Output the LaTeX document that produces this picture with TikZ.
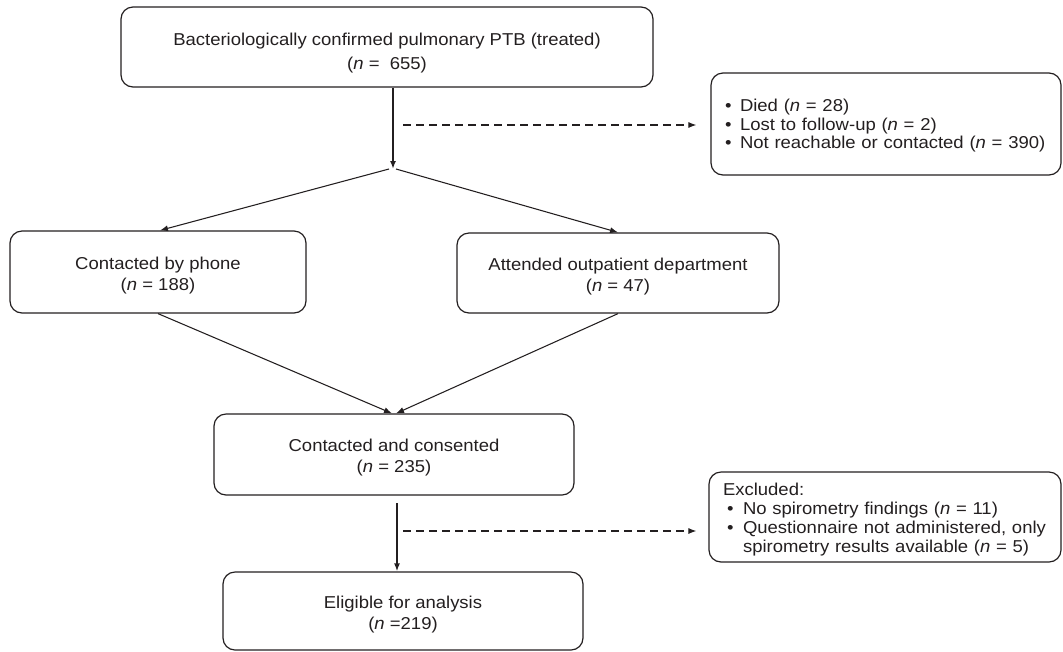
\documentclass[tikz,border=0pt]{standalone}
\usepackage{fontspec}
\setmainfont{Liberation Sans}[FakeStretch=1.075]
\usetikzlibrary{arrows.meta}
\definecolor{ink}{RGB}{35,31,32}
\newcommand{\upstrut}[1]{\rule{0pt}{#1}}
\begin{document}
\begin{tikzpicture}[x=0.75pt,y=-0.75pt,
  box/.style={draw=ink, line width=0.9pt, rounded corners=9pt, align=center, inner sep=0pt, text=ink},
  lbox/.style={box, align=left, inner xsep=10.5pt, inner ysep=0pt},
  arr/.style={draw=ink, line width=0.8pt, -{Latex[length=6pt,width=4.5pt]}},
  varr/.style={draw=ink, line width=1.3pt, -{Latex[length=6pt,width=4.5pt]}},
  darr/.style={draw=ink, line width=0.8pt, dash pattern=on 6pt off 3.75pt, -{Latex[length=6pt,width=4.5pt]}},
  fA/.style={font=\fontsize{12.9}{18.5}\selectfont},
  fB/.style={font=\fontsize{12.9}{15.75}\selectfont},
  fC/.style={font=\fontsize{12.9}{13.8}\selectfont},
  fD/.style={font=\fontsize{12.9}{14.25}\selectfont}
]
\useasboundingbox (0,0) rectangle (1063,651);

\node[box, fA, minimum width=399pt, minimum height=60pt] (top) at (387,47)
  {\upstrut{18.4pt}Bacteriologically confirmed pulmonary PTB (treated)\\(\textit{n} =\ \ 655)};

\node[lbox, fC, text width=241.5pt, minimum height=76.5pt] (lost) at (886,124)
  {\upstrut{12pt}\makebox[11.25pt][l]{•}Died (\textit{n} = 28)\\
   \makebox[11.25pt][l]{•}Lost to follow-up (\textit{n} = 2)\\
   \makebox[11.25pt][l]{•}Not reachable or contacted (\textit{n} = 390)};

\node[box, fB, minimum width=222pt, minimum height=61.5pt] (phone) at (158,272)
  {\upstrut{14pt}Contacted by phone\\(\textit{n} = 188)};

\node[box, fB, minimum width=241.5pt, minimum height=60pt] (opd) at (618,273)
  {\upstrut{14pt}Attended outpatient department\\(\textit{n} = 47)};

\node[box, fB, minimum width=270pt, minimum height=60.75pt] (consent) at (394,454.5)
  {\upstrut{14pt}Contacted and consented\\(\textit{n} = 235)};

\node[box, fB, minimum width=270pt, minimum height=58.5pt] (elig) at (403,611)
  {\upstrut{14pt}Eligible for analysis\\(\textit{n} =219)};

\node[lbox, fD, text width=243pt, minimum height=67.5pt] (excl) at (885,517)
  {\upstrut{13.5pt}Excluded:\\
   \hspace*{3pt}\makebox[12pt][l]{•}No spirometry findings (\textit{n} = 11)\\
   \hspace*{3pt}\makebox[12pt][l]{•}Questionnaire not administered, only\\
   \hspace*{15pt}spirometry results available (\textit{n} = 5)};

\coordinate (split) at (393,169);
\coordinate (d1) at (403,125);
\coordinate (c2) at (397,503);
\coordinate (d2) at (403,531);

\draw[varr] (top.south -| split) -- (split);
\draw[darr, shorten >=10.5pt] (d1) -- (lost.west |- d1);
\draw[arr] ([xshift=-3pt]split) -- ([xshift=1.5pt]phone.north);
\draw[arr] ([xshift=2.25pt]split) -- (opd.north);
\draw[arr] (phone.south) -- ([xshift=-1.5pt]consent.north);
\draw[arr] (opd.south) -- ([xshift=1.5pt]consent.north);
\draw[varr] (c2) -- (c2 |- elig.north);
\draw[darr, shorten >=9pt] (d2) -- (excl.west |- d2);
\end{tikzpicture}
\end{document}
